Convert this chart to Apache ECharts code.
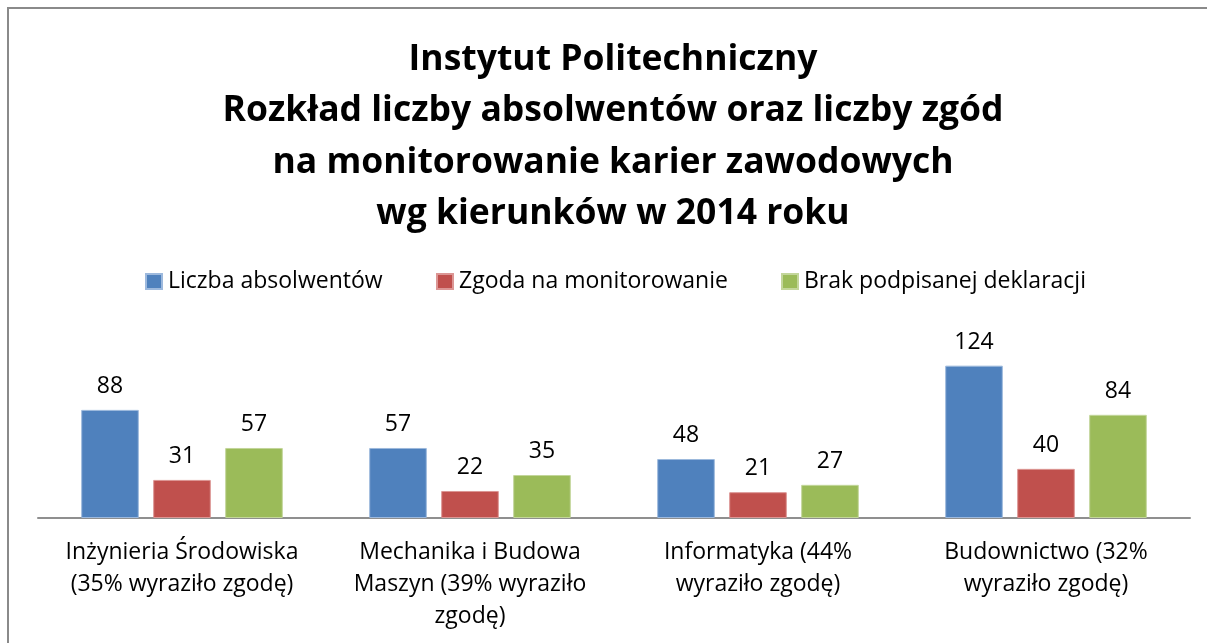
<!DOCTYPE html>
<html>
<head>
<meta charset="utf-8">
<script src="https://cdn.jsdelivr.net/npm/echarts@6/dist/echarts.min.js"></script>
<style>
  html, body { margin: 0; padding: 0; background: #fff; }
  #chart { width: 1207px; height: 643px; }
</style>
</head>
<body>
<div id="chart"></div>
<script>
// kierunki
var categories = [
  'Inżynieria Środowiska\n(35% wyraziło zgodę)',
  'Mechanika i Budowa\nMaszyn (39% wyraziło\nzgodę)',
  'Informatyka (44%\nwyraziło zgodę)',
  'Budownictwo (32%\nwyraziło zgodę)'
];
var seriesNames = ['Liczba absolwentów', 'Zgoda na monitorowanie', 'Brak podpisanej deklaracji'];
var absolwenci = [88, 57, 48, 124];
var zgody = [31, 22, 21, 40];
var brakDeklaracji = [57, 35, 27, 84];

var colors = ['#4F81BD', '#C0504D', '#9BBB59'];
var edges = ['#9DB9DD', '#DC9694', '#C3D69B'];
var font = '"Open Sans", sans-serif';

var chart = echarts.init(document.getElementById('chart'));

function bar(name, data, i) {
  return {
    name: name,
    type: 'bar',
    data: data,
    barGap: '25%',
    barCategoryGap: '30%',
    itemStyle: { color: colors[i], borderColor: edges[i], borderWidth: 1 },
    label: {
      show: true,
      position: 'top',
      distance: 12,
      color: '#000',
      fontFamily: font,
      fontSize: 23
    }
  };
}

function legendAt(name, left) {
  return {
    data: [name],
    left: left,
    top: 270,
    padding: 0,
    itemWidth: 16,
    itemHeight: 15,
    itemGap: 0,
    icon: 'rect',
    textStyle: { fontFamily: font, fontSize: 23, color: '#000', padding: [0, 0, 0, 1] }
  };
}

chart.setOption({
  animation: false,
  color: colors,
  title: {
    text: 'Instytut Politechniczny\nRozkład liczby absolwentów oraz liczby zgód\nna monitorowanie karier zawodowych\nwg kierunków w 2014 roku',
    left: 608,
    top: 29,
    textAlign: 'center',
    textStyle: {
      fontFamily: font,
      fontWeight: 'bold',
      fontSize: 35.5,
      lineHeight: 51.5,
      color: '#000'
    }
  },
  legend: [
    legendAt(seriesNames[0], 145),
    legendAt(seriesNames[1], 436),
    legendAt(seriesNames[2], 781)
  ],
  graphic: [{
    type: 'rect',
    shape: { x: 8, y: 8, width: 1300, height: 700 },
    style: { fill: 'none', stroke: '#8a8a8a', lineWidth: 2 },
    silent: true
  }],
  grid: { left: 38, right: 17, top: 346, bottom: 125 },
  xAxis: {
    type: 'category',
    data: categories,
    axisLine: { lineStyle: { color: '#8f8f8f', width: 2 } },
    axisTick: { show: false },
    axisLabel: {
      interval: 0,
      margin: 18,
      color: '#000',
      fontFamily: font,
      fontSize: 23,
      lineHeight: 32
    }
  },
  yAxis: {
    type: 'value',
    min: 0,
    max: 140,
    show: false,
    splitLine: { show: false }
  },
  series: [
    bar(seriesNames[0], absolwenci, 0),
    bar(seriesNames[1], zgody, 1),
    bar(seriesNames[2], brakDeklaracji, 2)
  ]
});
</script>
</body>
</html>
